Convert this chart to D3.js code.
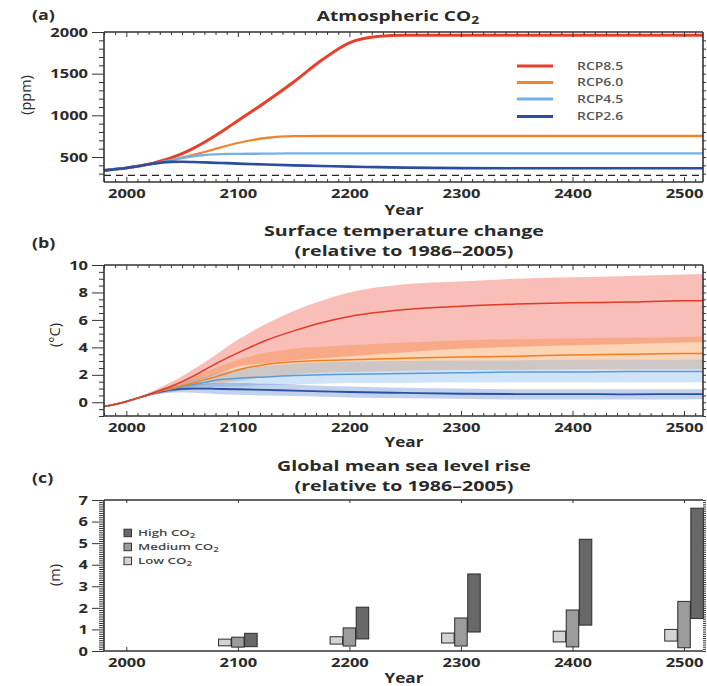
<!DOCTYPE html>
<html><head><meta charset="utf-8">
<script src="https://cdn.jsdelivr.net/npm/d3@7"></script>
<style>
body{margin:0;background:#fff}
svg{display:block}
text{font-family:"Open Sans",sans-serif;font-weight:700;fill:#2a2a2a}
</style>
</head><body>
<svg id="chart" width="707" height="686"></svg>
<script>
// ---------- DATA ----------
// Panel (a): atmospheric CO2 (ppm)
const yearsA = [1980,1990,2000,2010,2020,2030,2040,2050,2060,2070,2080,2090,2100,2125,2150,2175,2200,2225,2250,2300,2400,2500,2520];
const co2RCP85 = [339,354,369,390,412,449,490,541,604,677,758,845,936,1160,1400,1660,1870,1945,1962,1962,1962,1962,1962];
const co2RCP60 = [339,354,369,390,410,435,460,492,525,560,597,635,668,728,750,752,752,752,752,752,752,752,752];
const co2RCP45 = [339,354,369,390,411,435,460,487,509,524,532,537,538,540,543,543,543,543,543,543,543,543,543];
const co2RCP26 = [339,354,369,390,412,430,441,443,440,435,430,426,421,410,400,392,384,378,372,366,365,365,365];
const co2Preindustrial = 280;
const scenarioNames = ["RCP8.5","RCP6.0","RCP4.5","RCP2.6"];

// Panel (b): surface temperature change (°C), mean and 5-95% range
const yearsB = [1980,1990,2000,2010,2020,2030,2040,2050,2060,2070,2080,2100,2125,2150,2175,2200,2250,2300,2350,2400,2450,2500,2520];
const tRCP85   = [-0.3,-0.15,0.05,0.3,0.55,0.85,1.15,1.5,1.9,2.35,2.8,3.6,4.5,5.2,5.8,6.25,6.75,7.0,7.15,7.25,7.3,7.4,7.4];
const tRCP85hi = [-0.3,-0.15,0.05,0.35,0.7,1.05,1.45,1.9,2.4,2.9,3.45,4.55,5.7,6.65,7.4,8.0,8.6,8.8,9.0,9.1,9.2,9.3,9.35];
const tRCP85lo = [-0.3,-0.15,0.05,0.25,0.45,0.65,0.9,1.15,1.45,1.75,2.0,2.6,2.85,3.05,3.2,3.35,3.65,3.9,4.05,4.15,4.25,4.35,4.4];
const tRCP60   = [-0.3,-0.15,0.05,0.3,0.55,0.8,1.0,1.2,1.4,1.65,1.85,2.35,2.75,2.95,3.05,3.1,3.2,3.3,3.35,3.45,3.5,3.55,3.55];
const tRCP60hi = [-0.3,-0.15,0.05,0.33,0.62,0.95,1.25,1.55,1.85,2.2,2.5,3.1,3.6,3.9,4.05,4.15,4.35,4.5,4.6,4.65,4.7,4.75,4.8];
const tRCP60lo = [-0.3,-0.15,0.05,0.27,0.48,0.65,0.8,0.95,1.1,1.25,1.35,1.55,1.85,2.05,2.15,2.2,2.3,2.35,2.35,2.4,2.4,2.4,2.4];
const tRCP45   = [-0.3,-0.15,0.05,0.3,0.55,0.8,0.95,1.15,1.3,1.45,1.6,1.75,1.85,1.95,2.0,2.05,2.1,2.15,2.2,2.2,2.25,2.25,2.25];
const tRCP45hi = [-0.3,-0.15,0.05,0.33,0.62,0.95,1.2,1.45,1.65,1.85,2.05,2.4,2.65,2.8,2.9,2.95,3.0,3.05,3.05,3.1,3.1,3.1,3.1];
const tRCP45lo = [-0.3,-0.15,0.05,0.27,0.48,0.65,0.75,0.85,0.95,1.05,1.1,1.15,1.25,1.3,1.35,1.4,1.4,1.45,1.45,1.45,1.45,1.45,1.45];
const tRCP26   = [-0.3,-0.15,0.05,0.3,0.55,0.75,0.9,0.98,1.0,1.0,0.98,0.95,0.9,0.85,0.8,0.75,0.68,0.62,0.6,0.6,0.58,0.6,0.6];
const tRCP26hi = [-0.3,-0.15,0.05,0.33,0.6,0.9,1.1,1.2,1.3,1.35,1.4,1.4,1.35,1.3,1.2,1.15,1.05,1.0,0.95,0.95,0.95,0.95,0.95];
const tRCP26lo = [-0.3,-0.15,0.05,0.27,0.48,0.6,0.7,0.72,0.7,0.65,0.6,0.55,0.5,0.45,0.4,0.35,0.3,0.25,0.2,0.2,0.2,0.2,0.25];

// Panel (c): global mean sea level rise (m), ranges
const slrYears = [2100,2200,2300,2400,2500];
const slrLowMin  = [0.24,0.32,0.37,0.42,0.46];
const slrLowMax  = [0.55,0.66,0.83,0.92,1.00];
const slrMedMin  = [0.18,0.23,0.23,0.19,0.15];
const slrMedMax  = [0.64,1.07,1.53,1.90,2.30];
const slrHighMin = [0.20,0.56,0.88,1.20,1.51];
const slrHighMax = [0.82,2.03,3.57,5.18,6.62];
const slrNames = ["High CO","Medium CO","Low CO"];

// Tick labels
const xTickYears = [2000,2100,2200,2300,2400,2500];
const yTicksA = [500,1000,1500,2000];
const yTicksB = [0,2,4,6,8,10];
const yTicksC = [0,1,2,3,4,5,6,7];

// ---------- DRAWING ----------
const svg = d3.select("#chart");
const SX = 1.27;
function stretch(sel, f){
  const k = f || SX;
  sel.each(function(){
    const t = d3.select(this);
    const x = +(t.attr("x") || 0);
    t.attr("transform", `translate(${x*(1-k)},0) scale(${k},1)`);
  });
}
const L = 104, R = 703;
const x = d3.scaleLinear().domain([1980,2517]).range([L,R]);
const TICKFONT = "13px";

const col = {r85:"#e6402b", r60:"#f0842a", r45:"#74b0e8", r26:"#2b4d9e"};

function styleTickText(sel){
  sel.style("font-size",TICKFONT).style("font-family","'Open Sans',sans-serif").style("font-weight","700").attr("fill","#2a2a2a").call(stretch);
}

function frameAndAxes(g, y, top, bottom, opts){
  const minorYears = d3.range(1980, 2520, 10).filter(v => v % 100 !== 0);
  g.append("g").attr("transform",`translate(0,${top})`).call(d3.axisBottom(x).tickValues(minorYears).tickSize(3).tickFormat(""));
  g.append("g").attr("transform",`translate(0,${top})`).call(d3.axisBottom(x).tickValues(xTickYears).tickSize(5).tickFormat(""));
  g.append("g").attr("transform",`translate(0,${bottom})`).call(d3.axisTop(x).tickValues(minorYears).tickSize(3).tickFormat(""));
  g.append("g").attr("transform",`translate(0,${bottom})`).call(d3.axisTop(x).tickValues(xTickYears).tickSize(5).tickFormat(""));
  const lab = g.append("g").attr("transform",`translate(0,${bottom})`)
    .call(d3.axisBottom(x).tickValues(xTickYears).tickSize(0).tickPadding(7).tickFormat(d3.format("d")));
  lab.selectAll("text").call(styleTickText);
  const la = g.append("g").attr("transform",`translate(${L},0)`)
    .call(d3.axisLeft(y).tickValues(opts.major).tickSize(12).tickPadding(4).tickFormat(d3.format("d")));
  la.selectAll("text").call(styleTickText);
  g.append("g").attr("transform",`translate(${L},0)`)
    .call(d3.axisLeft(y).tickValues(opts.minor).tickSize(5).tickFormat(""));
  g.append("g").attr("transform",`translate(${R},0)`)
    .call(d3.axisRight(y).tickValues(opts.rightTicks).tickSize(3).tickFormat(""));
  g.selectAll(".domain").remove();
  g.selectAll(".tick line").attr("stroke","#333").attr("stroke-width",1);
  const fr = g.append("g").attr("fill","none").attr("stroke","#333").attr("stroke-width",1.6);
  fr.append("line").attr("x1",L).attr("x2",L).attr("y1",top).attr("y2",bottom);
  fr.append("line").attr("x1",L).attr("x2",R).attr("y1",top).attr("y2",top);
  fr.append("line").attr("x1",L).attr("x2",R).attr("y1",bottom).attr("y2",bottom);
  fr.append("line").attr("x1",R).attr("x2",R).attr("y1",top).attr("y2",bottom);
}

function titleText(txt, px, py, size, anchor, sub, k){
  const t = svg.append("text").attr("x",px).attr("y",py).attr("text-anchor",anchor||"middle").style("font-size",size+"px").text(txt);
  if (sub) t.append("tspan").attr("dy",3).style("font-size",(size*0.72)+"px").text(sub);
  t.call(stretch, k);
  return t;
}
function yLabel(txt, cx, cy){
  svg.append("text").attr("transform",`translate(${cx},${cy}) rotate(-90)`).attr("text-anchor","middle")
    .attr("dominant-baseline","central").style("font-size","14.5px").style("font-weight","400").text(txt);
}
const TITLE_K = 1.40;

// ===== Panel (a) =====
const topA = 32, botA = 182;
const yA = d3.scaleLinear().domain([200,2000]).range([botA,topA]);
const gA = svg.append("g");
svg.append("clipPath").attr("id","clipA").append("rect").attr("x",L).attr("y",topA).attr("width",R-L).attr("height",botA-topA);
const pA = gA.append("g").attr("clip-path","url(#clipA)");
pA.append("line").attr("x1",L).attr("x2",R).attr("y1",yA(co2Preindustrial)).attr("y2",yA(co2Preindustrial))
  .attr("stroke","#222").attr("stroke-width",1.3).attr("stroke-dasharray","7,5");
const lineA = vals => d3.line().x((d,i)=>x(yearsA[i])).y(d=>yA(d)).curve(d3.curveMonotoneX)(vals);
[[co2RCP85,col.r85,3],[co2RCP60,col.r60,2.3],[co2RCP45,col.r45,2.3],[co2RCP26,col.r26,2.6]].forEach(([v,c,w])=>{
  pA.append("path").attr("d",lineA(v)).attr("fill","none").attr("stroke",c).attr("stroke-width",w);
});
frameAndAxes(gA, yA, topA, botA, {major:yTicksA, minor:d3.range(300,2000,100).filter(v=>v%500!==0), rightTicks:d3.range(300,2000,100)});
const legA = svg.append("g");
[col.r85,col.r60,col.r45,col.r26].forEach((c,i)=>{
  const yy = [66,82.5,99,116.5][i];
  legA.append("line").attr("x1",517).attr("x2",553).attr("y1",yy).attr("y2",yy).attr("stroke",c).attr("stroke-width",3);
  legA.append("text").attr("x",577).attr("y",yy).attr("dominant-baseline","central").style("font-size","11px").style("font-weight","600").style("fill","#555").text(scenarioNames[i]).call(stretch);
});
titleText("(a)",32,20,14,"start");
titleText("Atmospheric CO",398,21,14.5,"middle","2",1.32);
yLabel("(ppm)",25,95);
titleText("Year",404,215,13.5,"middle");

// ===== Panel (b) =====
const topB = 265, botB = 416;
const yB = d3.scaleLinear().domain([-1,10]).range([botB,topB]);
const gB = svg.append("g");
svg.append("clipPath").attr("id","clipB").append("rect").attr("x",L).attr("y",topB).attr("width",R-L).attr("height",botB-topB);
const pB = gB.append("g").attr("clip-path","url(#clipB)");
const areaB = (lo,hi) => d3.area().x((d,i)=>x(yearsB[i])).y0((d,i)=>yB(lo[i])).y1((d,i)=>yB(hi[i])).curve(d3.curveMonotoneX)(lo);
const lineB = vals => d3.line().x((d,i)=>x(yearsB[i])).y(d=>yB(d)).curve(d3.curveMonotoneX)(vals);
[[tRCP85lo,tRCP85hi,"rgb(237,58,40)",0.33],[tRCP60lo,tRCP60hi,"rgb(245,130,40)",0.34],
 [tRCP45lo,tRCP45hi,"rgb(100,165,230)",0.30],[tRCP26lo,tRCP26hi,"rgb(40,90,185)",0.28]].forEach(([lo,hi,c,o])=>{
  pB.append("path").attr("d",areaB(lo,hi)).attr("fill",c).attr("fill-opacity",o).attr("stroke","none");
});
[[tRCP26,"#2452a6",1.8],[tRCP45,"#5c9ad8",1.5],[tRCP60,"#ee7f22",1.5],[tRCP85,"#e03a26",1.5]].forEach(([v,c,w])=>{
  pB.append("path").attr("d",lineB(v)).attr("fill","none").attr("stroke",c).attr("stroke-width",w);
});
frameAndAxes(gB, yB, topB, botB, {major:yTicksB, minor:d3.range(-1,10,0.5).filter(v=>v%2!==0), rightTicks:d3.range(-1,10,0.5)});
titleText("(b)",32,248,14,"start");
titleText("Surface temperature change",404,236.5,14,"middle",null,TITLE_K);
titleText("(relative to 1986\u20132005)",404,256,14,"middle",null,TITLE_K);
yLabel("(\u00B0C)",54,335);
titleText("Year",404,447,13.5,"middle");

// ===== Panel (c) =====
const topC = 500, botC = 651;
const yC = d3.scaleLinear().domain([0,7]).range([botC,topC]);
const gC = svg.append("g");
const barW = x(11.2) - x(0);
const groups = [
  {mins:slrLowMin, maxs:slrLowMax, off:-11.7, fill:"#d4d4d4"},
  {mins:slrMedMin, maxs:slrMedMax, off:0, fill:"#9b9b9b"},
  {mins:slrHighMin, maxs:slrHighMax, off:11.7, fill:"#686868"}
];
groups.forEach(gr=>{
  gC.append("g").selectAll("rect").data(slrYears).join("rect")
    .attr("x",(d)=>x(d+gr.off)-barW/2).attr("width",barW)
    .attr("y",(d,i)=>yC(gr.maxs[i])).attr("height",(d,i)=>yC(gr.mins[i])-yC(gr.maxs[i]))
    .attr("fill",gr.fill).attr("stroke","#2a2a2a").attr("stroke-width",1);
});
(function(){
  const g = gC;
  g.append("g").attr("transform",`translate(0,${topC})`).call(d3.axisBottom(x).tickValues(xTickYears).tickSize(3).tickFormat(""));
  g.append("g").attr("transform",`translate(0,${botC})`).call(d3.axisTop(x).tickValues(xTickYears).tickSize(4).tickFormat(""));
  const lab = g.append("g").attr("transform",`translate(0,${botC})`)
    .call(d3.axisBottom(x).tickValues(xTickYears).tickSize(0).tickPadding(7).tickFormat(d3.format("d")));
  lab.selectAll("text").call(styleTickText);
  const la = g.append("g").attr("transform",`translate(${L},0)`)
    .call(d3.axisLeft(yC).tickValues(yTicksC).tickSize(12).tickPadding(4).tickFormat(d3.format("d")));
  la.selectAll("text").call(styleTickText);
  g.append("g").attr("transform",`translate(${L},0)`)
    .call(d3.axisLeft(yC).tickValues(d3.range(0.1,7,0.1).filter(v=>Math.abs(v-Math.round(v))>0.01)).tickSize(5).tickFormat(""));
  g.append("g").attr("transform",`translate(${R},0)`)
    .call(d3.axisRight(yC).tickValues(d3.range(0,7.01,0.1)).tickSize(3).tickFormat(""));
  g.selectAll(".domain").remove();
  g.selectAll(".tick line").attr("stroke","#333").attr("stroke-width",1);
  const fr = g.append("g").attr("stroke","#333").attr("stroke-width",1.6);
  fr.append("line").attr("x1",L).attr("x2",L).attr("y1",topC).attr("y2",botC);
  fr.append("line").attr("x1",L).attr("x2",R).attr("y1",topC).attr("y2",topC);
  fr.append("line").attr("x1",L).attr("x2",R).attr("y1",botC).attr("y2",botC);
})();
// legend (c)
const legC = svg.append("g");
const legCY0 = 533, legCStep = 14;
["#686868","#9b9b9b","#d4d4d4"].forEach((c,i)=>{
  const yy = legCY0 + i*legCStep;
  legC.append("rect").attr("x",124).attr("y",yy-3.8).attr("width",7.5).attr("height",7.5).attr("fill",c).attr("stroke","#333").attr("stroke-width",1);
  const t = legC.append("text").attr("x",138).attr("y",yy+3.3).style("font-size","9.5px").style("font-weight","600").style("fill","#444").text(slrNames[i]);
  t.append("tspan").attr("dy",1.5).style("font-size","7px").text("2");
  t.call(stretch, 1.4);
});
titleText("(c)",32,483,14,"start");
titleText("Global mean sea level rise",404,471.5,14,"middle",null,TITLE_K);
titleText("(relative to 1986\u20132005)",404,491,14,"middle",null,TITLE_K);
yLabel("(m)",54,575);
titleText("Year",404,683,13.5,"middle");
</script>
</body></html>
